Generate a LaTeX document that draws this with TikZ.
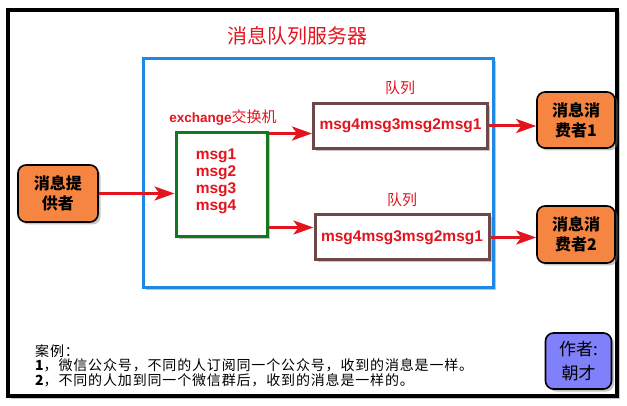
\documentclass[tikz,border=0pt]{standalone}
\usepackage{fontspec}
\setmainfont{Liberation Sans}
\newfontfamily\cjk{Noto Sans CJK SC}
\usetikzlibrary{arrows.meta,shadows}

\definecolor{msgred}{RGB}{228,20,30}
\definecolor{boxorange}{RGB}{246,133,66}
\definecolor{authorblue}{RGB}{128,128,250}
\definecolor{servblue}{RGB}{30,136,229}
\definecolor{exgreen}{RGB}{20,120,30}
\definecolor{qbrown}{RGB}{110,72,72}

\begin{document}
\begin{tikzpicture}[x=1pt,y=-1pt,
  shade/.style={drop shadow={opacity=0.45,shadow xshift=2.5pt,shadow yshift=-2.5pt}},
  actor/.style={draw=black,line width=1.6pt,rounded corners=8pt,fill=boxorange,shade,
    align=center,inner sep=0pt,font=\cjk\bfseries\fontsize{16}{20}\selectfont},
  queue/.style={draw=qbrown,line width=3pt,fill=white,shade,inner sep=0pt,
    minimum width=174pt,minimum height=45pt,text=msgred,font=\bfseries\fontsize{15.5}{18}\selectfont},
  redlabel/.style={text=msgred,inner sep=0pt},
  flow/.style={draw=msgred,line width=3pt,-{Stealth[length=20pt,width=14pt,inset=5pt]}}]
  \useasboundingbox (0,0) rectangle (627,406);
  % frame and server
  \draw[line width=3.5pt,fill=white,shade] (8,10) rectangle (617,396);
  \draw[servblue,line width=3pt,fill=white,shade] (143,59) rectangle (493,288);
  \node[redlabel,font=\cjk\fontsize{20}{24}\selectfont] (title) at (297,36) {消息队列服务器};

  % exchange
  \node[draw=exgreen,line width=3pt,fill=white,shade,minimum width=91pt,minimum height=104pt,inner sep=0pt]
    (exch) at (221.5,185) {};
  \node[redlabel,font=\bfseries\fontsize{13.5}{15}\selectfont] (exlabel) at (223,118)
    {exchange{\cjk\mdseries\fontsize{15}{15}\selectfont 交换机}};
  \node[redlabel,align=center,font=\bfseries\fontsize{15.5}{17}\selectfont] (msgs) at (216,181)
    {msg1\\msg2\\msg3\\msg4};

  % queues
  \node[queue] (q1) at (400.5,126) {msg4msg3msg2msg1};
  \node[queue] (q2) at (402,237.5) {msg4msg3msg2msg1};
  \node[redlabel,font=\cjk\fontsize{15}{18}\selectfont] (q1label) at (400,88) {队列};
  \node[redlabel,font=\cjk\fontsize{15}{18}\selectfont] (q2label) at (402,200) {队列};

  % producer / consumers
  \node[actor,minimum width=80pt,minimum height=57pt] (prod) at (58,193.5) {消息提\\供者};
  \node[actor,minimum width=78pt,minimum height=56pt] (c1) at (576,120) {消息消\\费者1};
  \node[actor,minimum width=78pt,minimum height=57pt] (c2) at (576,234.5) {消息消\\费者2};

  \draw[flow] (prod.east) -- (prod.east -| exch.west);
  \draw[flow] ([yshift=-2pt]exch.north east) -- ([yshift=-2pt]exch.north east -| q1.west);
  \draw[flow] ([yshift=11pt]exch.south east) -- ([yshift=11pt]exch.south east -| q2.west);
  \draw[flow] (q1.east) -- (q1.east -| c1.west);
  \draw[flow] (q2.east) -- (q2.east -| c2.west);

  % notes
  \node[anchor=north west,align=left,inner sep=0pt,
    font=\cjk\fontsize{14}{14.5}\selectfont\addfontfeature{LetterSpace=6}] (note) at (35,344)
    {案例：\\{\bfseries 1}，微信公众号，不同的人订阅同一个公众号，收到的消息是一样。\\{\bfseries 2}，不同的人加到同一个微信群后，收到的消息是一样的。};
  \node[actor,fill=authorblue,minimum width=66pt,minimum height=56pt,
    font=\cjk\fontsize{17}{24}\selectfont] (author) at (578.5,361) {作者:\\朝才};
\end{tikzpicture}
\end{document}
